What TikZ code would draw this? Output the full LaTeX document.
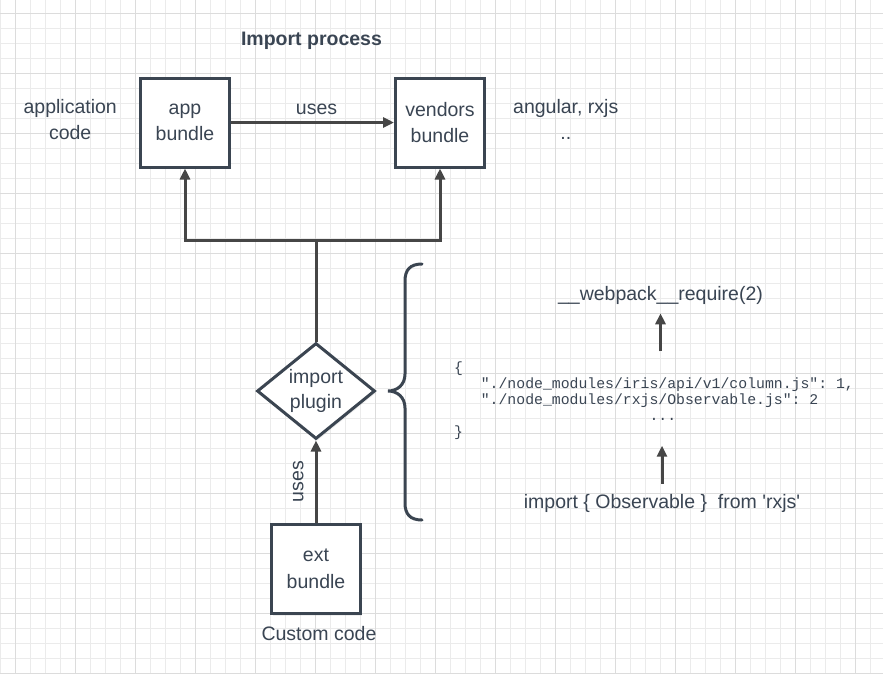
\documentclass[tikz,border=0pt]{standalone}
\usepackage{fontspec}
\setmainfont{Liberation Sans}
\setmonofont{Liberation Mono}
\usetikzlibrary{arrows.meta,positioning,shapes.geometric,shadows}

\definecolor{ink}{HTML}{3A4553}
\definecolor{boxline}{HTML}{3B4551}
\definecolor{wirecol}{HTML}{464646}
\definecolor{gridminor}{HTML}{EBEBEB}
\definecolor{gridmajor}{HTML}{DCDCDC}

\tikzset{
  gridline/.style={draw=gridminor, line width=1pt},
  gridmajorline/.style={draw=gridmajor, line width=1pt},
  caption/.style={text=ink, align=center, inner sep=0pt, font=\fontsize{19.5}{26.5}\selectfont},
  heading/.style={caption, font=\bfseries\fontsize{19.5}{26.5}\selectfont},
  code/.style={text=ink, align=left, inner sep=0pt, font=\ttfamily\fontsize{14.8}{16}\selectfont},
  boxshadow/.style={drop shadow={shadow xshift=1.5pt, shadow yshift=-2pt, opacity=0.12}},
  bundle/.style={draw=boxline, line width=3pt, fill=white, boxshadow, minimum width=89pt, minimum height=89pt, inner sep=0pt, align=center, text=ink, font=\fontsize{19.5}{26.5}\selectfont},
  plugin/.style={diamond, aspect=1.2, draw=boxline, line width=3pt, fill=white, boxshadow, minimum width=118pt, minimum height=96pt, inner sep=0pt, align=center, text=ink, font=\fontsize{19.5}{25.6}\selectfont},
  link/.style={draw=wirecol, line width=3pt},
  flow/.style={link, -{Triangle[length=11pt,width=10pt]}},
  brace/.style={draw=boxline, line width=3pt, line cap=round}
}

\begin{document}
\begin{tikzpicture}[x=1pt, y=-1pt]
          % background and grid
          \useasboundingbox (0,0) rectangle (883,673);
          \fill[white] (0,0) rectangle (883,673);
          \foreach \x in {0,15,...,883} \draw[gridline] (\x,0) -- (\x,673);
          \foreach \y in {13.5,28.5,...,674} \draw[gridline] (0,\y) -- (883,\y);
          \foreach \x in {15,75,...,883} \draw[gridmajorline] (\x,0) -- (\x,673);
          \foreach \y in {13.5,73.5,...,674} \draw[gridmajorline] (0,\y) -- (883,\y);

          % nodes
          \node[heading] (title) at (311.5,40.5) {Import process};

          \node[bundle] (app_bundle) at (185,122.5) {app\\bundle};

          \node[bundle, right=163pt of app_bundle] (vendors_bundle) {vendors\\bundle};

          \node[caption, left=22pt of app_bundle, yshift=3pt] (application_code) {application\\code};

          \node[caption, right=27pt of vendors_bundle, yshift=3pt] (vendors_libs) {angular, rxjs\\..};

          \node[plugin] (import_plugin) at (316,391) {import\\plugin};

          \node[bundle, below=82.5pt of import_plugin] (ext_bundle) {ext\\bundle};

          \node[caption, below=11pt of ext_bundle, xshift=3pt] (custom_code) {Custom code};

          \node[caption] (webpack_require) at (660.5,295) {\_\_webpack\_\_require(2)};

          \node[caption] (import_stmt) at (662,503) {import \{ Observable \}\ \ from \textquotesingle rxjs\textquotesingle};

          \node[code, anchor=north west] (module_map) at (454,361.5) {\{\\
            \hphantom{000}"./node\_modules/iris/api/v1/column.js": 1,\\
            \hphantom{000}"./node\_modules/rxjs/Observable.js": 2\\
            \hphantom{0000000000000000000000}...\\
            \}};

          % brace
          \draw[brace] (422,264) .. controls (410,264) and (405,270) .. (405,281) -- (405,374)
               .. controls (405,385) and (397,391) .. (388,391)
               .. controls (397,391) and (405,397) .. (405,408) -- (405,503)
               .. controls (405,514) and (410,520) .. (422,520);

          % edges
          \coordinate (split) at (316,240);
          \draw[flow] (app_bundle) -- node[caption, above=6pt, xshift=4pt] {uses} (vendors_bundle);
          \draw[link] (import_plugin) -- (split);
          \draw[flow] (split) -| (app_bundle);
          \draw[flow] (split) -| (vendors_bundle);
          \draw[flow] (ext_bundle) -- node[caption, sloped, above=11pt] {uses} (import_plugin);
          \draw[flow] ([yshift=-47pt]webpack_require.south) -- ([yshift=-9pt]webpack_require.south);
          \draw[flow] ([yshift=10pt]import_stmt.north) -- ++(0,-38);

\end{tikzpicture}
\end{document}
